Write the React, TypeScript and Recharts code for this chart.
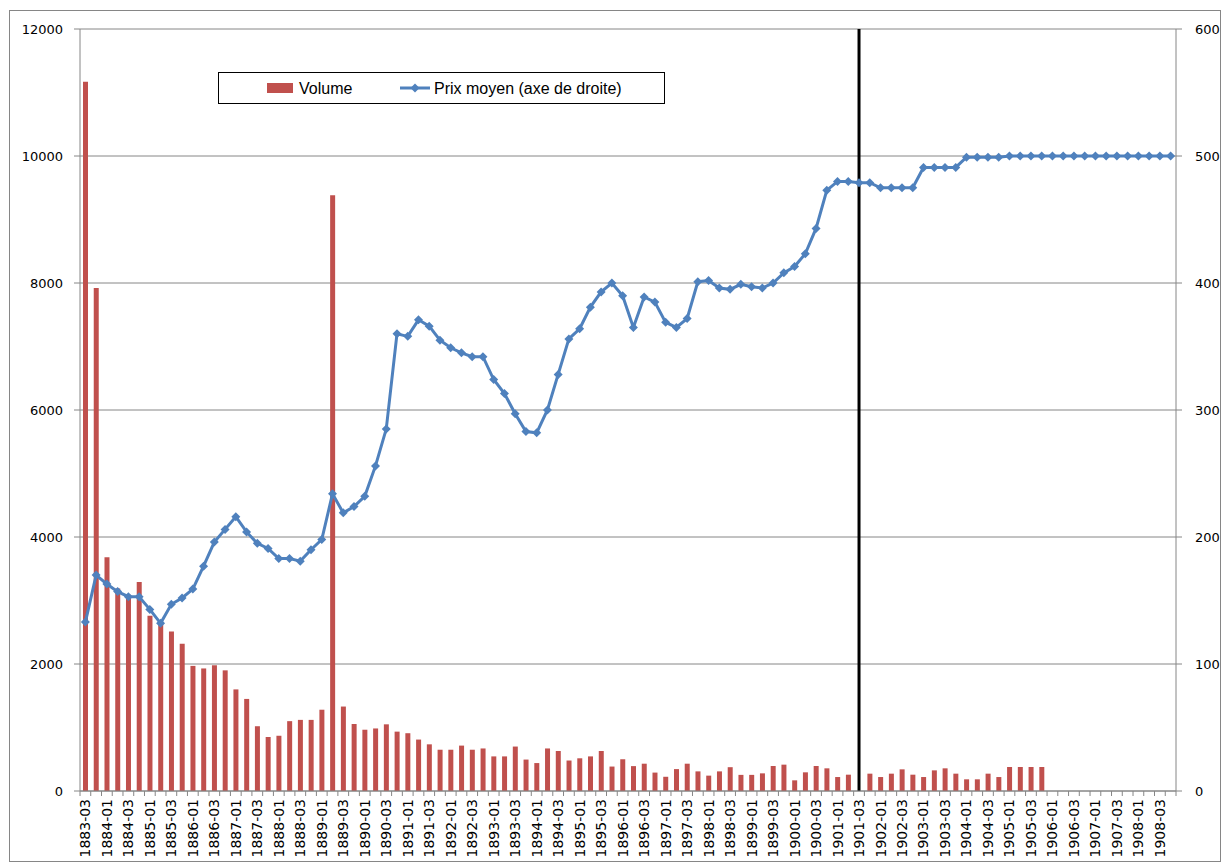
import {
  ComposedChart,
  Bar,
  Line,
  XAxis,
  YAxis,
  CartesianGrid,
  ReferenceLine,
} from "recharts";

const categories = [
  "1883-03", "1883-04",
  "1884-01", "1884-02", "1884-03", "1884-04",
  "1885-01", "1885-02", "1885-03", "1885-04",
  "1886-01", "1886-02", "1886-03", "1886-04",
  "1887-01", "1887-02", "1887-03", "1887-04",
  "1888-01", "1888-02", "1888-03", "1888-04",
  "1889-01", "1889-02", "1889-03", "1889-04",
  "1890-01", "1890-02", "1890-03", "1890-04",
  "1891-01", "1891-02", "1891-03", "1891-04",
  "1892-01", "1892-02", "1892-03", "1892-04",
  "1893-01", "1893-02", "1893-03", "1893-04",
  "1894-01", "1894-02", "1894-03", "1894-04",
  "1895-01", "1895-02", "1895-03", "1895-04",
  "1896-01", "1896-02", "1896-03", "1896-04",
  "1897-01", "1897-02", "1897-03", "1897-04",
  "1898-01", "1898-02", "1898-03", "1898-04",
  "1899-01", "1899-02", "1899-03", "1899-04",
  "1900-01", "1900-02", "1900-03", "1900-04",
  "1901-01", "1901-02", "1901-03", "1901-04",
  "1902-01", "1902-02", "1902-03", "1902-04",
  "1903-01", "1903-02", "1903-03", "1903-04",
  "1904-01", "1904-02", "1904-03", "1904-04",
  "1905-01", "1905-02", "1905-03", "1905-04",
  "1906-01", "1906-02", "1906-03", "1906-04",
  "1907-01", "1907-02", "1907-03", "1907-04",
  "1908-01", "1908-02", "1908-03", "1908-04",
];

// volume (left axis)
const volume: (number | null)[] = [
  11170, 7920,
  3680, 3190, 3090, 3290,
  2760, 2650, 2510, 2320,
  1970, 1930, 1980, 1900,
  1600, 1450, 1020, 850,
  870, 1100, 1120, 1120,
  1280, 9380, 1330, 1055,
  965, 985, 1050, 935,
  910, 810, 735, 650,
  650, 715, 650, 670,
  545, 545, 700, 495,
  440, 670, 630, 480,
  515, 545, 630, 385,
  500, 392, 430, 290,
  224, 345, 430, 309,
  242, 309, 375, 254,
  254, 278, 394, 415,
  168, 294, 394, 357,
  220, 257, null, 273,
  220, 273, 341, 257,
  220, 325, 357, 273,
  184, 184, 273, 220,
  378, 378, 378, 378,
  null, null, null, null,
  null, null, null, null,
  null, null, null, null,
];

// prix moyen (right axis)
const price = [
  133, 170,
  163, 157, 153, 153,
  143, 132, 147, 152,
  159, 177, 196, 206,
  216, 204, 195, 191,
  183, 183, 181, 190,
  198, 234, 219, 224,
  232, 256, 285, 360,
  358, 371, 366, 355,
  349, 345, 342, 342,
  324, 313, 297, 283,
  282, 300, 328, 356,
  364, 381, 393, 400,
  390, 365, 389, 385,
  369, 365, 372, 401,
  402, 396, 395, 399,
  397, 396, 400, 408,
  413, 423, 443, 473,
  480, 480, 479, 479,
  475, 475, 475, 475,
  491, 491, 491, 491,
  499, 499, 499, 499,
  500, 500, 500, 500,
  500, 500, 500, 500,
  500, 500, 500, 500,
  500, 500, 500, 500,
];

const leftTicks = [0, 2000, 4000, 6000, 8000, 10000, 12000];
const rightTicks = [0, 100, 200, 300, 400, 500, 600];
const markerPeriod = "1901-03";

const W = 1210;
const H = 850;
const PLOT_W = 1096;
const BAND = PLOT_W / categories.length;
const GRAY = "#868686";
const RED = "#C0504D";
const BLUE = "#4F81BD";

const data = categories.map((period, i) => ({
  period,
  volume: volume[i],
  price: price[i],
}));

function PeriodTick(props: any) {
  const { x, y, payload, index } = props;
  const half = BAND / 2;
  const last = index === categories.length - 1;
  return (
    <g>
      <line x1={x - half} x2={x - half} y1={y} y2={y + 5} stroke={GRAY} />
      {last && <line x1={x + half} x2={x + half} y1={y} y2={y + 5} stroke={GRAY} />}
      {index % 2 === 0 && (
        <text
          transform={`translate(${x},${y + 8}) rotate(-90)`}
          textAnchor="end"
          dominantBaseline="central"
          fontSize={14}
          fontFamily="DejaVu Sans"
          fill="#000"
        >
          {payload.value}
        </text>
      )}
    </g>
  );
}

function Diamond(props: any) {
  const { cx, cy, index } = props;
  if (cx == null || cy == null) return <g key={`d-${index}`} />;
  const r = 4.5;
  return (
    <path
      key={`d-${index}`}
      d={`M${cx},${cy - r}L${cx + r},${cy}L${cx},${cy + r}L${cx - r},${cy}Z`}
      fill={BLUE}
    />
  );
}

function LegendBox() {
  return (
    <div
      style={{
        position: "absolute",
        left: 208,
        top: 61,
        width: 447,
        height: 32,
        boxSizing: "border-box",
        border: "1px solid #000",
        background: "#fff",
      }}
    >
      <svg width={445} height={30} style={{ display: "block" }}>
        <rect x={48} y={10} width={26} height={10} fill={RED} />
        <text x={80} y={15} dominantBaseline="central" fontSize={16} fontFamily="Liberation Sans" fill="#000">
          Volume
        </text>
        <line x1={181} x2={211} y1={15} y2={15} stroke={BLUE} strokeWidth={3} />
        <path d="M196,10.5L200.5,15L196,19.5L191.5,15Z" fill={BLUE} />
        <text x={215} y={15} dominantBaseline="central" fontSize={16} fontFamily="Liberation Sans" fill="#000">
          Prix moyen (axe de droite)
        </text>
      </svg>
    </div>
  );
}

export default function App() {
  return (
    <div
      style={{
        position: "absolute",
        left: 9,
        top: 10,
        width: W,
        height: H,
        border: `1px solid ${GRAY}`,
        background: "#fff",
        fontFamily: "DejaVu Sans",
      }}
    >
      <div style={{ position: "relative", width: W, height: H }}>
        <ComposedChart width={W} height={H} data={data} margin={{ top: 18, right: 0, bottom: 0, left: 0 }}>
          <CartesianGrid yAxisId="left" horizontal vertical={false} stroke={GRAY} />
          <XAxis
            dataKey="period"
            interval={0}
            height={70}
            tickLine={false}
            tickSize={0}
            tickMargin={0}
            axisLine={{ stroke: GRAY }}
            tick={<PeriodTick />}
          />
          <YAxis
            yAxisId="left"
            orientation="left"
            width={70}
            domain={[0, 12000]}
            ticks={leftTicks}
            tickSize={6}
            tickMargin={11}
            axisLine={{ stroke: GRAY }}
            tickLine={{ stroke: GRAY }}
            tick={{ fill: "#000", fontSize: 13, fontFamily: "DejaVu Sans" }}
          />
          <YAxis
            yAxisId="right"
            orientation="right"
            width={44}
            domain={[0, 600]}
            ticks={rightTicks}
            tickSize={6}
            tickMargin={13}
            axisLine={{ stroke: GRAY }}
            tickLine={{ stroke: GRAY }}
            tick={{ fill: "#000", fontSize: 13, fontFamily: "DejaVu Sans", textAnchor: "start" }}
          />
          <Bar yAxisId="left" dataKey="volume" name="Volume" fill={RED} barSize={5} isAnimationActive={false} />
          <ReferenceLine yAxisId="left" x={markerPeriod} stroke="#000" strokeWidth={3} />
          <Line
            yAxisId="right"
            dataKey="price"
            name="Prix moyen (axe de droite)"
            type="linear"
            stroke={BLUE}
            strokeWidth={3}
            dot={(p: any) => <Diamond {...p} />}
            activeDot={false}
            isAnimationActive={false}
          />
        </ComposedChart>
        <LegendBox />
      </div>
    </div>
  );
}
